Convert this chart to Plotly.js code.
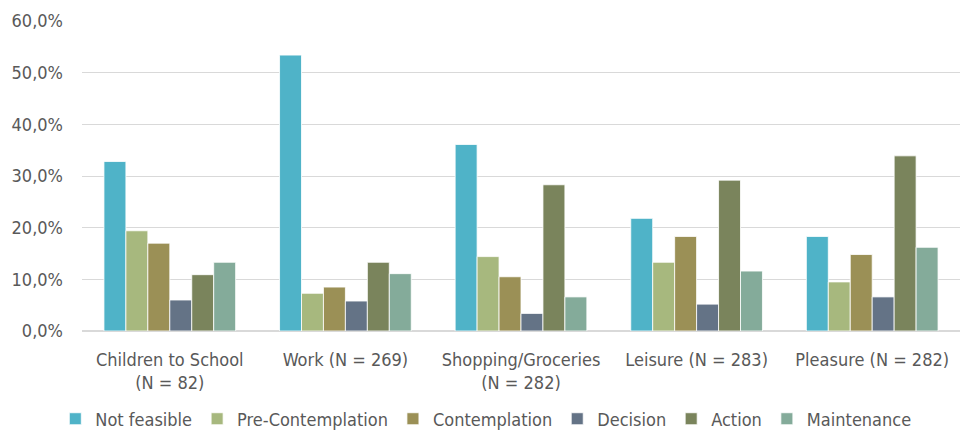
<!DOCTYPE html>
<html>
<head>
<meta charset="utf-8">
<script src="https://cdn.plot.ly/plotly-3.0.1.min.js"></script>
<style>html,body{margin:0;padding:0;background:#fff;}#chart{width:962px;height:432px;}</style>
</head>
<body>
<div id="chart"></div>
<script>
const categories = ["Children to School<br>(N = 82)", "Work (N = 269)", "Shopping/Groceries<br>(N = 282)", "Leisure (N = 283)", "Pleasure (N = 282)"];
const seriesNames = ["Not feasible", "Pre-Contemplation", "Contemplation", "Decision", "Action", "Maintenance"];
const notFeasible = [32.8, 53.4, 36.1, 21.8, 18.3];
const preContemplation = [19.4, 7.3, 14.4, 13.3, 9.5];
const contemplation = [17.0, 8.5, 10.5, 18.3, 14.8];
const decision = [6.0, 5.8, 3.4, 5.2, 6.6];
const action = [10.9, 13.3, 28.3, 29.2, 33.9];
const maintenance = [13.3, 11.1, 6.6, 11.6, 16.2];
const yTicks = [0, 10, 20, 30, 40, 50, 60];
const yTickLabels = ["0,0%", "10,0%", "20,0%", "30,0%", "40,0%", "50,0%", "60,0%"];

const colors = ["#4FB3C8", "#A7B87E", "#9B9056", "#647386", "#7A845C", "#84AB9A"];
const seriesValues = [notFeasible, preContemplation, contemplation, decision, action, maintenance];
const font = "'Liberation Sans Narrow', 'DejaVu Sans Condensed', Arial, sans-serif";

const data = seriesNames.map((n, i) => ({
  type: "bar",
  name: n,
  x: categories,
  y: seriesValues[i],
  marker: {color: colors[i], line: {color: "rgba(255,255,255,0.8)", width: 1}},
  hoverinfo: "skip"
}));

const layout = {
  width: 962, height: 432,
  margin: {l: 82, r: 2, t: 21, b: 101},
  separators: ",.",
  barmode: "group",
  bargap: 0.25,
  bargroupgap: 0,
  paper_bgcolor: "#fff",
  plot_bgcolor: "#fff",
  font: {family: font, size: 18, color: "#595959"},
  xaxis: {
    showgrid: false, zeroline: false, showline: false,
    ticks: "", tickfont: {size: 18, color: "#595959"}, automargin: false,
    ticklabelstandoff: 16
  },
  yaxis: {
    range: [0, 60], tickvals: yTicks, ticktext: yTickLabels,
    showgrid: true, gridcolor: "#D9D9D9", gridwidth: 1,
    zeroline: true, zerolinecolor: "#D9D9D9", zerolinewidth: 2,
    showline: false, ticks: "", tickfont: {size: 18, color: "#595959"}, automargin: false,
    ticklabelstandoff: 18
  },
  showlegend: true,
  legend: {
    orientation: "h", x: 0.505, xanchor: "center", xref: "container",
    y: 0.03, yanchor: "middle", yref: "container",
    font: {size: 18, color: "#595959"}, traceorder: "normal", itemwidth: 30
  }
};

Plotly.newPlot("chart", data, layout, {staticPlot: true, displayModeBar: false});
</script>
</body>
</html>
